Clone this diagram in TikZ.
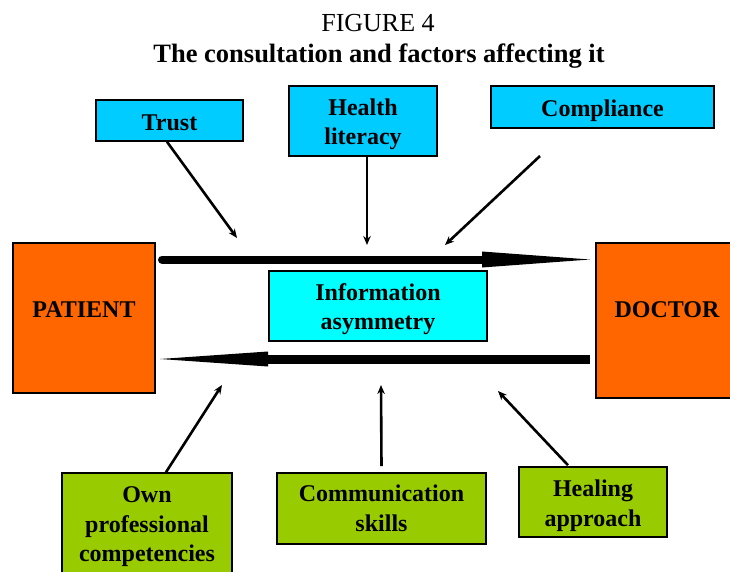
\documentclass[tikz,border=0pt]{standalone}
\usepackage{fontspec}
\setmainfont{Liberation Serif}
\usetikzlibrary{arrows.meta}
\definecolor{skyc}{HTML}{00CCFF}
\definecolor{aquac}{HTML}{00FFFF}
\definecolor{orangec}{HTML}{FF6600}
\definecolor{greenc}{HTML}{99CC00}
\tikzset{
  box/.style={draw=black, line width=1.6pt, inner sep=0pt},
  txt/.style={align=center, font=\bfseries\fontsize{24}{29.5}\selectfont},
  factor/.style={line width=2.6pt, -{Stealth[length=9pt,width=7.5pt]}},
  lbl/.style={anchor=base, font=\bfseries\fontsize{24}{28}\selectfont}
}
\begin{document}
\begin{tikzpicture}[x=1pt,y=-1pt]
\useasboundingbox (0,0) rectangle (730,572);
% title
\node[anchor=base, font=\fontsize{26}{30}\selectfont] (fig) at (378,32) {FIGURE 4};
\node[anchor=base, font=\bfseries\fontsize{26.5}{30}\selectfont] (ttl) at (379,63) {The consultation and factors affecting it};
% top factors
\node[box, fill=skyc, minimum width=147pt, minimum height=41pt,
  label={[txt, yshift=-2pt]center:Trust}] (trust) at (169.5,120.5) {};
\node[box, fill=skyc, minimum width=148pt, minimum height=70pt,
  label={[txt, yshift=-3.5pt]center:Health\\literacy}] (health) at (363,121) {};
\node[box, fill=skyc, minimum width=223pt, minimum height=42pt,
  label={[txt, yshift=-3.5pt]center:Compliance}] (compl) at (602.5,107) {};
% actors
\node[box, fill=orangec, minimum width=142pt, minimum height=150pt] (patient) at (84,318) {};
\node[lbl] (patlbl) at (84,317) {PATIENT};
\node[box, fill=orangec, minimum width=142pt, minimum height=155pt] (doctor) at (667,320.5) {};
\node[lbl] (doclbl) at (667,317) {DOCTOR};
\node[box, fill=aquac, minimum width=218pt, minimum height=70pt,
  label={[txt, yshift=-3pt]center:Information\\asymmetry}] (info) at (378,306) {};
% bottom factors
\node[box, fill=greenc, minimum width=170pt, minimum height=105pt,
  label={[txt, yshift=-1.5pt]center:Own\\professional\\competencies}] (own) at (147,525.5) {};
\node[box, fill=greenc, minimum width=209pt, minimum height=71pt,
  label={[txt, yshift=0pt]center:Communication\\skills}] (comm) at (381.5,508.5) {};
\node[box, fill=greenc, minimum width=148pt, minimum height=70pt,
  label={[txt, yshift=-3.5pt]center:Healing\\approach}] (heal) at (593,502) {};
% big flow arrows: patient -> doctor
\coordinate (f1s) at (162,259.5);
\coordinate (f1b) at (482,259.5);
\coordinate (f1e) at (590,259.5);
\draw[line width=8pt, line cap=round] (f1s) -- (f1b);
\fill ([yshift=8pt]f1b) -- (f1e) -- ([yshift=-8pt]f1b) -- cycle;
% doctor -> patient
\coordinate (f2s) at (590,359);
\coordinate (f2b) at (268,359);
\coordinate (f2e) at (160,359);
\draw[line width=9pt] (f2s) -- (f2b);
\fill ([yshift=7.5pt]f2b) -- (f2e) -- ([yshift=-7.5pt]f2b) -- cycle;
% factor arrows
\coordinate (t1) at (237,238);
\coordinate (h1) at (367,245);
\coordinate (c0) at (540,156);
\coordinate (c1) at (445,245);
\coordinate (o1) at (222,385);
\coordinate (m1) at (381,385);
\coordinate (a1) at (498,391);
\draw[factor] ([xshift=-2.5pt]trust.south) -- (t1);
\draw[factor] ([xshift=4pt]health.south) -- (h1);
\draw[factor] (c0) -- (c1);
\draw[factor] ([xshift=19pt]own.north) -- (o1);
\draw[factor] ([yshift=6pt]comm.north) -- (m1);
\draw[factor] ([xshift=-25pt,yshift=1pt]heal.north) -- (a1);
\end{tikzpicture}
\end{document}
